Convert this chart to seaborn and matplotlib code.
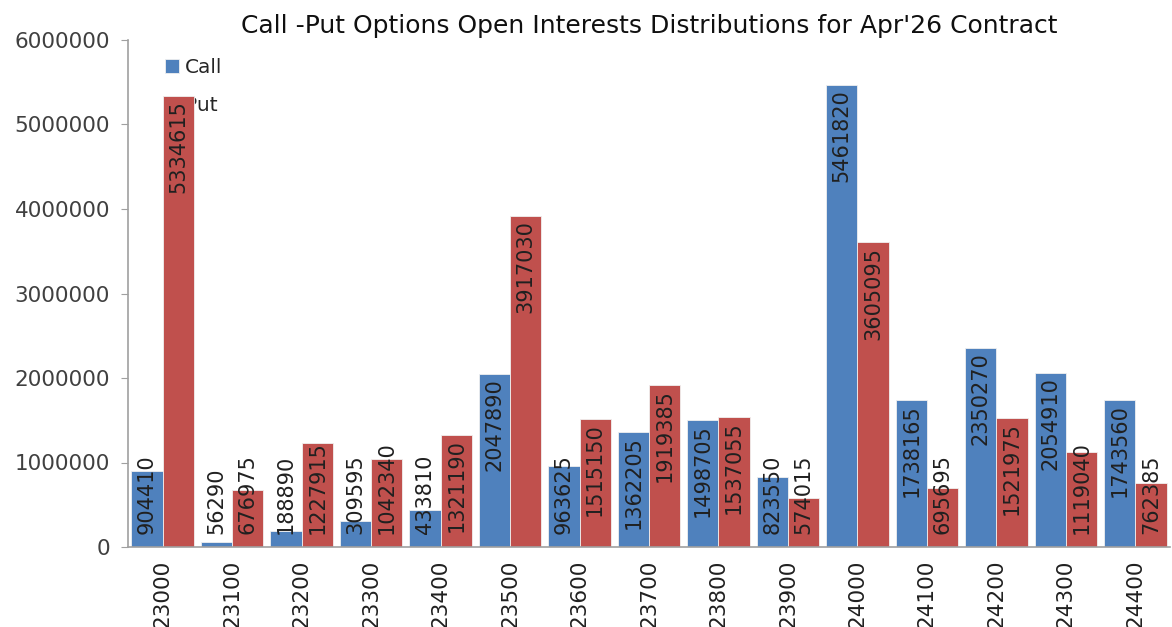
import numpy as np
import pandas as pd
import matplotlib
matplotlib.use("Agg")
import matplotlib.pyplot as plt
import seaborn as sns
from matplotlib.ticker import FixedLocator

strikes = ["23000", "23100", "23200", "23300", "23400", "23500", "23600", "23700",
           "23800", "23900", "24000", "24100", "24200", "24300", "24400"]
call_oi = [904410, 56290, 188890, 309595, 433810, 2047890, 963625, 1362205,
           1498705, 823550, 5461820, 1738165, 2350270, 2054910, 1743560]
put_oi = [5334615, 676975, 1227915, 1042340, 1321190, 3917030, 1515150, 1919385,
          1537055, 574015, 3605095, 695695, 1521975, 1119040, 762385]

df = pd.DataFrame({
    "Strike": strikes * 2,
    "OI": call_oi + put_oi,
    "Type": ["Call"] * len(strikes) + ["Put"] * len(strikes),
})

sns.set_style("white")
plt.rcParams["font.family"] = ["DejaVu Sans"]

fig = plt.figure(figsize=(11.72, 6.27), dpi=100)
ax = fig.add_axes([128 / 1172, 1 - 547 / 627, 1042 / 1172, 507 / 627])

sns.barplot(data=df, x="Strike", y="OI", hue="Type", order=strikes,
            palette={"Call": "#4F81BD", "Put": "#C0504D"}, width=0.9,
            edgecolor="#f0f0f0", linewidth=0.6, saturation=1, ax=ax, zorder=2)

ax.set_ylim(0, 6000000)
ax.set_xlim(-0.5, len(strikes) - 0.5)
ax.set_yticks(np.arange(0, 6000001, 1000000))
ax.set_yticklabels([f"{int(v)}" for v in ax.get_yticks()], fontsize=15.5, color="#404040")
ax.set_xlabel("")
ax.set_ylabel("")
ax.set_xticks(range(len(strikes)))
ax.set_xticklabels(strikes, rotation=90, fontsize=15.5, color="#202020")
ax.xaxis.set_minor_locator(FixedLocator(np.arange(-0.5, len(strikes), 1.0)))
ax.tick_params(axis="x", which="major", length=0, pad=9)
ax.tick_params(axis="x", which="minor", length=5, color="#a0a0a0", direction="out")
ax.tick_params(axis="y", length=5, color="#a0a0a0", direction="out", left=True, pad=8)

for s in ["top", "right"]:
    ax.spines[s].set_visible(False)
for s in ["left", "bottom"]:
    ax.spines[s].set_color("#a0a0a0")
    ax.spines[s].set_linewidth(1.2)

leg = ax.legend(loc="upper left", bbox_to_anchor=(0.018, 1.0), frameon=False,
                fontsize=14.5, handlelength=0.7, handleheight=0.7, handletextpad=0.3,
                labelspacing=0.95)
leg.set_zorder(1)

ax.set_title("Call -Put Options Open Interests Distributions for Apr'26 Contract",
             fontsize=18, color="#101010", pad=5)

# bar value labels: inside end, but kept above the axis base
fig.canvas.draw()
renderer = fig.canvas.get_renderer()
base_px = ax.transData.transform((0, 0))[1]
for cont in ax.containers:
    for bar, val in zip(cont, cont.datavalues):
        xc = bar.get_x() + bar.get_width() / 2
        t = ax.annotate(f"{int(val)}", (xc, val), xytext=(0, -3), textcoords="offset points",
                        rotation=90, ha="center", va="top", fontsize=15, color="#202020", zorder=3)
        bb = t.get_window_extent(renderer)
        if bb.y0 < base_px + 12:
            t.remove()
            ax.annotate(f"{int(val)}", (xc, 0), xytext=(0, 9), textcoords="offset points",
                        rotation=90, ha="center", va="bottom", fontsize=15, color="#202020",
                        zorder=3)

fig.savefig("out.png", dpi=100)
